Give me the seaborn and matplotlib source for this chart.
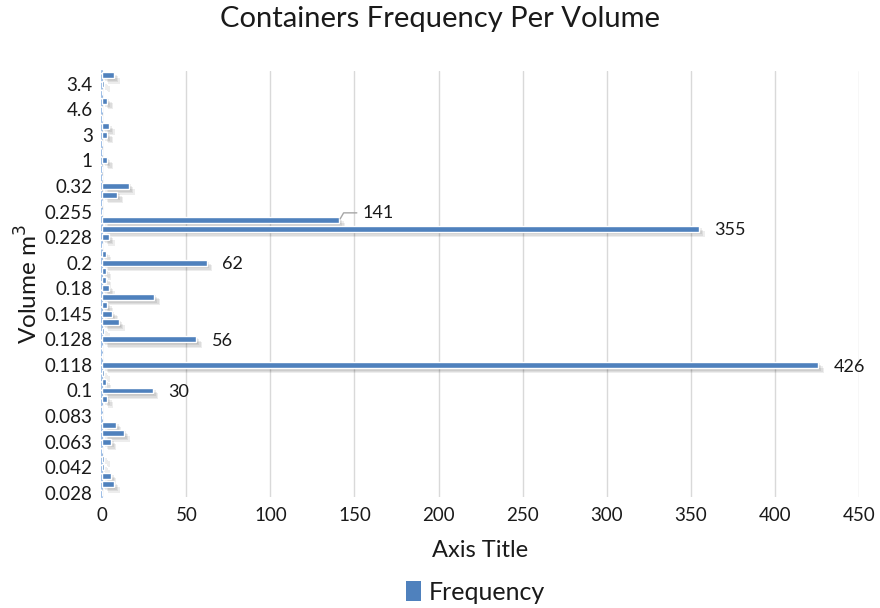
import matplotlib
matplotlib.use("Agg")
import matplotlib.pyplot as plt
import matplotlib.patheffects as pe
from matplotlib.patches import Patch
import seaborn as sns
import pandas as pd

# Container counts per volume class, listed from the top row of the chart down
frequency = [7, 1, 0, 3, 0, 0, 4, 3, 0, 0,
             3, 0, 0, 16, 9, 0, 0, 141, 355, 4,
             0, 2, 62, 2, 2, 4, 31, 3, 6, 10,
             1, 56, 0, 0, 426, 1, 2, 30, 3, 0,
             0, 8, 13, 5, 0, 1, 1, 5, 7, 0]

# Every third row carries a volume label (m³)
volume_labels = ["3.4", "4.6", "3", "1", "0.32", "0.255", "0.228", "0.2",
                 "0.18", "0.145", "0.128", "0.118", "0.1", "0.083", "0.063",
                 "0.042", "0.028"]
label_rows = list(range(1, len(frequency), 3))

# Rows that show their value next to the bar
value_label_rows = [17, 18, 22, 31, 34, 37]

x_ticks = list(range(0, 451, 50))

df = pd.DataFrame({"row": list(range(len(frequency))), "frequency": frequency})

sns.set_theme(style="white")
plt.rcParams["font.family"] = ["Lato", "DejaVu Sans"]
text_color = "#1a1a1a"
bar_color = "#4F81BD"

fig = plt.figure(figsize=(8.8, 6.08), dpi=100)
ax = fig.add_axes([0.1163, 0.1826, 0.8595, 0.7006])

sns.barplot(data=df, x="frequency", y="row", orient="h", color=bar_color,
            saturation=1, width=0.7, ax=ax, legend=False, zorder=3)

# Soft drop shadow built from a few faint offset copies
shadow = [pe.SimplePatchShadow(offset=(d, -d), shadow_rgbFace="#000000", alpha=0.07)
          for d in (1.0, 2.0, 3.0, 4.0)]
for patch in ax.patches:
    patch.set_path_effects(shadow + [pe.Normal()])

ax.set_xlim(0, 450)
ax.set_xticks(x_ticks)
ax.set_xticklabels([str(t) for t in x_ticks])
ax.set_ylim(len(frequency) - 0.5, -0.5)
ax.set_yticks(label_rows)
ax.set_yticklabels(volume_labels)
ax.tick_params(axis="both", labelsize=13.5, colors=text_color, length=0, pad=7)

ax.grid(axis="x", color="#d9d9d9", linewidth=1, zorder=0)
ax.grid(axis="y", visible=False)
for side in ["top", "right", "bottom"]:
    ax.spines[side].set_visible(False)
ax.spines["left"].set_color("#8eb4e3")
ax.spines["left"].set_linestyle((0, (3, 2)))
ax.spines["left"].set_linewidth(1.2)

ax.set_xlabel("Axis Title", fontsize=17, color=text_color, labelpad=12)
ax.set_ylabel("Volume m$^3$", fontsize=17.5, color=text_color, labelpad=2)

# Value labels on the large bars
for i in value_label_rows:
    v = frequency[i]
    if v == 141:
        ax.annotate(str(v), xy=(v + 0.5, i - 0.15), xytext=(v + 14, i - 0.85),
                    fontsize=13, color=text_color, va="center", ha="left",
                    arrowprops=dict(arrowstyle="-", color="#a6a6a6", lw=1,
                                    shrinkA=2, shrinkB=0,
                                    connectionstyle="angle,angleA=0,angleB=60,rad=0"))
    else:
        ax.text(v + 9, i + 0.2, str(v), fontsize=13, color=text_color,
                va="center", ha="left")

fig.suptitle("Containers Frequency Per Volume", fontsize=21, color=text_color,
             x=0.5, y=0.99)

handle = Patch(facecolor=bar_color, edgecolor="none")
fig.legend([handle], ["Frequency"], loc="center", bbox_to_anchor=(0.54, 0.026),
           frameon=False, fontsize=18, handlelength=0.6, handleheight=0.8,
           handletextpad=0.3, labelcolor=text_color)

fig.savefig("out.png", dpi=100)
